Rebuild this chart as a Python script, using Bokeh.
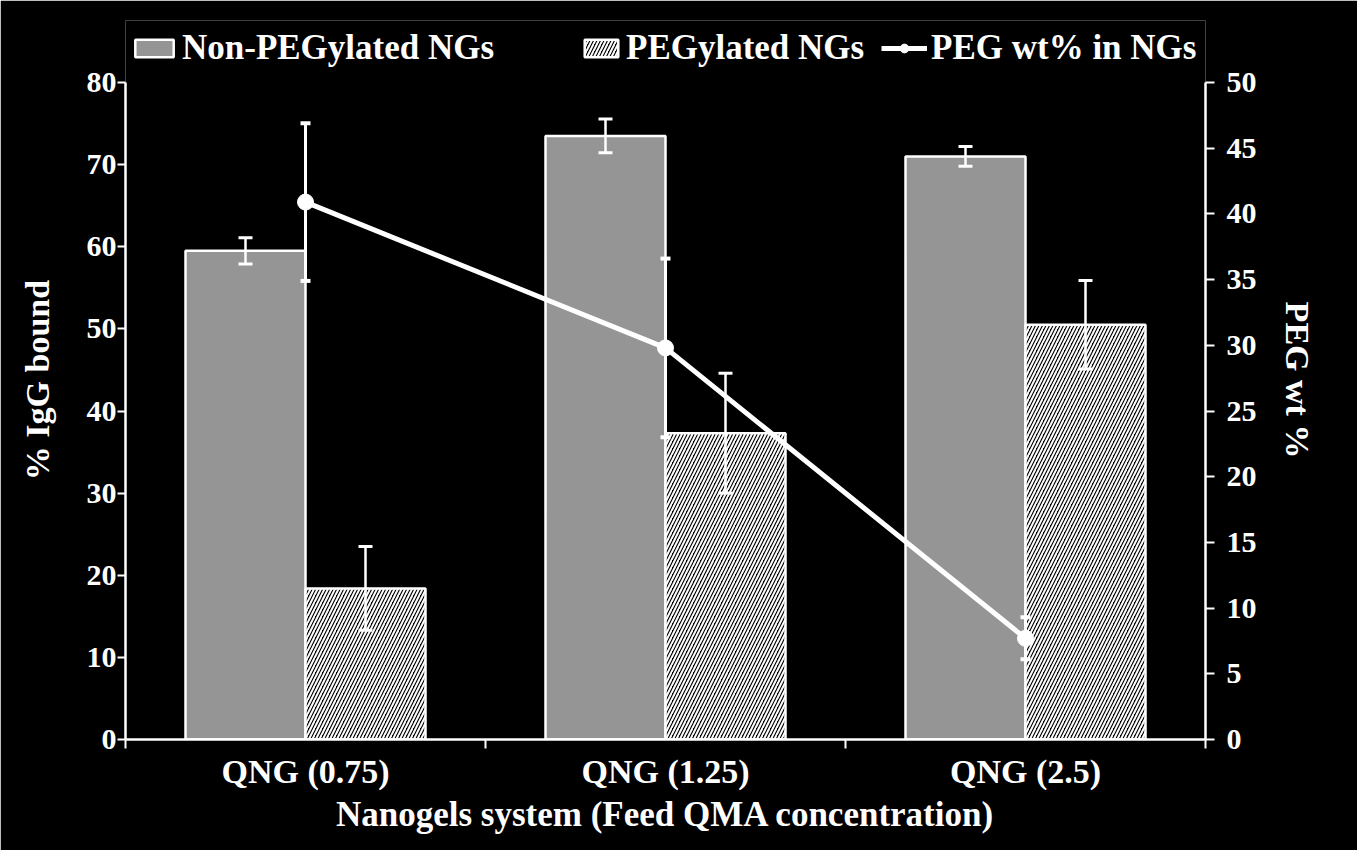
from bokeh.plotting import figure
from bokeh.models import (FactorRange, Range1d, LinearAxis, CategoricalAxis, FixedTicker,
                          Whisker, TeeHead, ColumnDataSource, Legend, LegendItem)
from bokeh.transform import dodge
from bokeh.embed import file_html
from bokeh.resources import INLINE

categories = ["QNG (0.75)", "QNG (1.25)", "QNG (2.5)"]
non_peg = [59.5, 73.5, 71.0]
non_peg_err = [1.6, 2.05, 1.2]
peg = [18.4, 37.3, 50.5]
peg_err = [5.1, 7.3, 5.4]
peg_wt = [40.9, 29.8, 7.7]
peg_wt_err = [6.0, 6.8, 1.6]
left_ticks = [0, 10, 20, 30, 40, 50, 60, 70, 80]
right_ticks = [0, 5, 10, 15, 20, 25, 30, 35, 40, 45, 50]
edge_ticks = [0, 1, 2, 3]
left_max = 80
right_max = 50

FONT = "Liberation Serif"
WHITE = "white"

# layout: frame spans y=20..739 on the canvas; axes cover only 0..max (top at y=82)
FRAME_TOP, FRAME_BOTTOM, AXIS_TOP = 20, 739, 82
stretch = (FRAME_BOTTOM - FRAME_TOP) / (FRAME_BOTTOM - AXIS_TOP)

src = ColumnDataSource(dict(
    cats=categories,
    non_peg=non_peg,
    np_lo=[v - e for v, e in zip(non_peg, non_peg_err)],
    np_hi=[v + e for v, e in zip(non_peg, non_peg_err)],
    peg=peg,
    p_lo=[v - e for v, e in zip(peg, peg_err)],
    p_hi=[v + e for v, e in zip(peg, peg_err)],
    wt=peg_wt,
    w_lo=[v - e for v, e in zip(peg_wt, peg_wt_err)],
    w_hi=[v + e for v, e in zip(peg_wt, peg_wt_err)],
))

p = figure(width=1357, height=850, x_range=FactorRange(*categories),
           y_range=Range1d(0, left_max * stretch),
           output_backend="svg", toolbar_location=None, x_axis_location=None,
           min_border_left=125, min_border_right=152, min_border_top=FRAME_TOP,
           min_border_bottom=850 - FRAME_BOTTOM,
           background_fill_color="black", border_fill_color="black", outline_line_color=None)
p.extra_y_ranges = {"right": Range1d(0, right_max * stretch)}
p.grid.visible = False


def style_axis(ax, tick_size="30px"):
    ax.axis_line_color = WHITE
    ax.axis_line_width = 2.5
    ax.major_tick_line_color = WHITE
    ax.major_tick_line_width = 2
    ax.major_tick_in = 0
    ax.major_tick_out = 9
    ax.minor_tick_line_color = None
    ax.major_label_text_color = WHITE
    ax.major_label_text_font = FONT
    ax.major_label_text_font_style = "bold"
    ax.major_label_text_font_size = tick_size
    ax.axis_label_text_color = WHITE
    ax.axis_label_text_font = FONT
    ax.axis_label_text_font_style = "bold"
    ax.axis_label_text_font_size = "34px"


# left axis
ly = p.yaxis[0]
ly.ticker = FixedTicker(ticks=left_ticks)
ly.bounds = (0, left_max)
style_axis(ly)
ly.axis_label = "% IgG bound"
ly.major_tick_out = 8
ly.major_label_standoff = 1
ly.axis_label_standoff = 28

# right axis
ry = LinearAxis(y_range_name="right", ticker=FixedTicker(ticks=right_ticks), bounds=(0, right_max))
style_axis(ry)
ry.axis_label = "PEG wt %"
ry.major_label_standoff = 12
ry.axis_label_standoff = 19
p.add_layout(ry, "right")

# bottom axis line with ticks at category boundaries
ex = LinearAxis(ticker=FixedTicker(ticks=edge_ticks))
style_axis(ex)
ex.major_label_text_font_size = "0px"
ex.major_label_text_color = None
ex.major_label_standoff = 0
p.add_layout(ex, "below")

# categorical axis for labels
cx = CategoricalAxis()
style_axis(cx, "34px")
cx.axis_line_color = None
cx.major_tick_line_color = None
cx.major_label_standoff = -5
cx.axis_label = "Nanogels system (Feed QMA concentration)"
cx.axis_label_text_font_size = "35px"
cx.axis_label_standoff = 2
p.add_layout(cx, "below")

# bars
b1 = p.vbar(x=dodge("cats", -1 / 6, range=p.x_range), top="non_peg", width=1 / 3, source=src,
            fill_color="#959595", line_color=WHITE, line_width=2.5)
b2 = p.vbar(x=dodge("cats", 1 / 6, range=p.x_range), top="peg", width=1 / 3, source=src,
            fill_color="black", line_color=WHITE, line_width=2.5,
            hatch_pattern="/", hatch_color=WHITE, hatch_scale=7, hatch_weight=2)

# error bars for bars
for base, lo, hi in [(dodge("cats", -1 / 6, range=p.x_range), "np_lo", "np_hi"),
                     (dodge("cats", 1 / 6, range=p.x_range), "p_lo", "p_hi")]:
    w = Whisker(source=src, base=base, lower=lo, upper=hi, line_color=WHITE, line_width=2.5,
                upper_head=TeeHead(size=14, line_color=WHITE, line_width=3),
                lower_head=TeeHead(size=14, line_color=WHITE, line_width=3), level="glyph")
    p.add_layout(w)

# PEG wt% line
wl = Whisker(source=src, base="cats", lower="w_lo", upper="w_hi", y_range_name="right",
             line_color=WHITE, line_width=3,
             upper_head=TeeHead(size=10, line_color=WHITE, line_width=4),
             lower_head=TeeHead(size=10, line_color=WHITE, line_width=4), level="glyph")
p.add_layout(wl)
ln = p.line(x="cats", y="wt", source=src, y_range_name="right", line_color=WHITE, line_width=5)
pt = p.scatter(x="cats", y="wt", source=src, y_range_name="right", size=16,
               fill_color=WHITE, line_color=WHITE)


def make_legend(item, x, gw):
    lg = Legend(items=[item], location=(x, 671), orientation="horizontal",
                background_fill_alpha=0, border_line_color=None, padding=0, margin=0,
                glyph_width=gw, glyph_height=22, label_standoff=4, spacing=0,
                label_text_color=WHITE, label_text_font=FONT, label_text_font_style="bold",
                label_text_font_size="35px")
    p.add_layout(lg)


make_legend(LegendItem(label="Non-PEGylated NGs", renderers=[b1]), 5, 48)
make_legend(LegendItem(label="PEGylated NGs", renderers=[b2]), 455, 42)
make_legend(LegendItem(label="PEG wt% in NGs", renderers=[ln, pt]), 756, 46)

open("out.html", "w").write(file_html(p, INLINE))
